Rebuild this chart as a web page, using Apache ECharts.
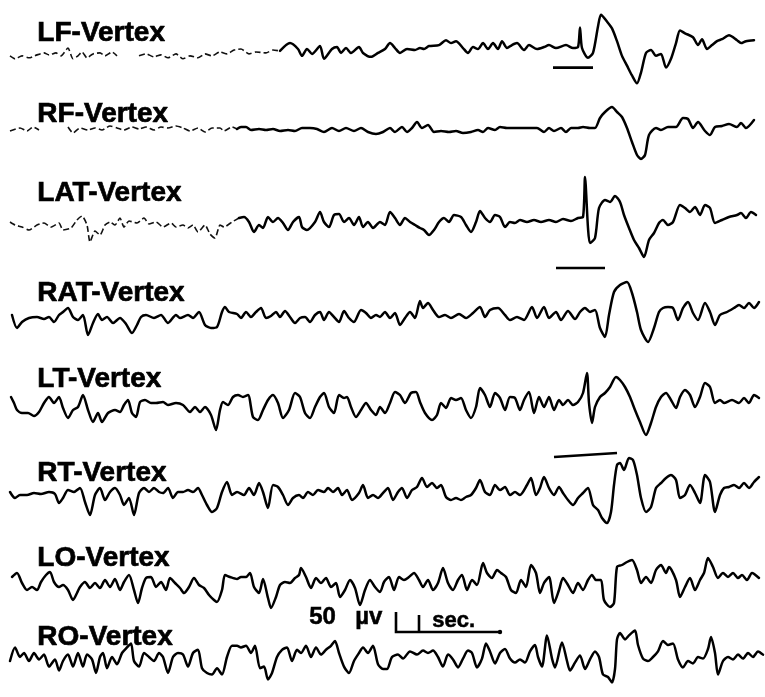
<!DOCTYPE html>
<html><head><meta charset="utf-8">
<script src="https://cdn.jsdelivr.net/npm/echarts/dist/echarts.min.js"></script>
<style>html,body{margin:0;padding:0;background:#fff}#c{width:765px;height:697px}</style>
</head><body><div id="c"></div>
<script>
// EEG bipolar traces (channel - Vertex). Time unit: 1 sec = 105 units; amplitude in arbitrary pen units (50 uV ~ 20 units)
const channels = ['LF-Vertex','RF-Vertex','LAT-Vertex','RAT-Vertex','LT-Vertex','RT-Vertex','LO-Vertex','RO-Vertex'];

const lf = [[10,-7],[15,-10],[22,-7],[29,-9],[37,-6],[44,-4],[49,-6],[56,-4],[61,-7],[68,1],[73,-10],[78,-7],[82,-3],[87,-9],[93,-5],[100,-4],[105,-7],[112,-3],[117,-7],[128,null],[139,-7],[146,-5],[154,-8],[161,-6],[168,-9],[176,-5],[183,-10],[190,-7],[198,-9],[205,-5],[212,-7],[220,-3],[227,-5],[234,-1],[241,0],[249,-5],[256,-3],[266,-4],[273,-1],[280,-2],[290,6],[298,0],[302,-7],[307,0],[312,-5],[320,3],[324,-10],[332,0],[337,2],[341,-4],[346,1],[351,-4],[359,2],[363,-4],[371,-8],[378,-4],[385,0],[390,6],[395,1],[400,-4],[407,0],[415,-1],[420,1],[424,0],[429,3],[439,4],[446,9],[451,6],[456,8],[463,1],[468,-4],[473,2],[478,0],[483,6],[488,0],[493,6],[498,0],[502,8],[507,1],[512,4],[517,6],[524,-1],[529,4],[537,0],[544,2],[549,4],[556,1],[566,4],[573,1],[578,2],[580,22],[582,1],[588,-9],[593,-4],[598,23],[601,35],[607,28],[612,21],[617,8],[622,-7],[627,-17],[632,-27],[637,-35],[641,-24],[646,-4],[651,-1],[656,-7],[661,-5],[666,-19],[671,-10],[676,6],[680,19],[685,16],[693,12],[698,4],[702,10],[707,0],[712,4],[717,8],[722,10],[729,14],[737,9],[741,6],[746,8],[754,9]];

const rf = [[10,-3],[20,0],[27,-3],[33,1],[39,-2],[55,null],[68,1],[73,-5],[80,0],[88,-2],[95,0],[102,-2],[110,2],[117,0],[124,-2],[132,1],[139,-1],[146,1],[154,-2],[161,1],[168,0],[176,2],[183,0],[190,-3],[198,0],[205,-4],[212,0],[220,0],[224,-3],[232,1],[237,-1],[241,1],[246,1],[251,-2],[259,-1],[266,-2],[273,-1],[280,-3],[288,-2],[295,-3],[302,0],[310,0],[317,-1],[324,-4],[332,0],[339,-3],[346,0],[354,-3],[361,0],[368,-4],[376,-6],[383,-4],[390,0],[395,-4],[402,1],[407,-4],[412,0],[417,6],[422,0],[428,3],[434,-4],[441,-3],[449,-4],[456,-3],[463,-5],[471,-4],[478,-2],[483,-4],[488,0],[495,-2],[500,1],[507,0],[515,0],[522,0],[529,0],[537,0],[544,-4],[549,0],[554,-3],[561,0],[566,-4],[571,0],[578,0],[583,1],[590,0],[595,0],[600,10],[605,16],[612,21],[617,16],[622,11],[627,0],[632,-14],[637,-27],[641,-31],[645,-27],[649,-7],[656,0],[661,-2],[668,1],[676,1],[683,10],[688,9],[693,0],[698,6],[705,-3],[710,-7],[715,1],[722,2],[729,4],[737,1],[741,5],[746,0],[754,8]];

const lat = [[10,-2],[15,-5],[22,-7],[29,-10],[37,-5],[44,-3],[51,-7],[59,-3],[63,-10],[71,-8],[77,0],[82,4],[87,-5],[90,-22],[95,-11],[100,-15],[105,-5],[110,-2],[115,-5],[120,2],[124,-7],[129,-1],[137,-3],[144,2],[149,-4],[156,-2],[163,-7],[171,-3],[176,-7],[183,-5],[188,-8],[193,-5],[198,-12],[205,-5],[210,-14],[215,-18],[220,-5],[224,-7],[232,-2],[239,2],[244,3],[249,-2],[254,-12],[259,-5],[263,-8],[268,3],[273,-2],[278,2],[283,-3],[288,-10],[293,-2],[299,3],[302,-7],[307,-10],[315,-2],[320,8],[324,-2],[329,-7],[334,5],[339,6],[344,-2],[349,2],[354,-5],[359,3],[363,-7],[368,-2],[373,-8],[380,-2],[385,-5],[390,8],[395,2],[400,-5],[405,2],[410,-2],[415,-5],[420,-8],[424,-10],[429,-15],[434,-10],[439,-2],[444,2],[449,-2],[454,5],[461,3],[466,-5],[471,-12],[476,-2],[480,9],[485,2],[490,-2],[495,5],[500,3],[505,-7],[510,-2],[515,-3],[520,0],[527,-2],[534,0],[541,-2],[549,0],[556,-2],[563,1],[571,-1],[578,2],[583,3],[585,43],[588,-8],[590,-23],[595,-18],[599,12],[605,20],[610,18],[615,24],[620,18],[624,5],[629,-8],[634,-20],[639,-28],[644,-37],[649,-20],[654,-13],[659,-3],[663,0],[668,-5],[673,-2],[680,15],[685,12],[690,8],[695,13],[700,5],[705,15],[710,12],[715,-3],[722,0],[729,3],[737,5],[741,7],[746,2],[751,8],[756,5]];

const rat = [[12,3],[17,-10],[22,-4],[29,0],[37,1],[44,-1],[49,1],[54,-4],[59,3],[63,6],[68,10],[73,1],[78,-2],[83,3],[88,-17],[93,-5],[98,4],[102,-2],[107,1],[113,-5],[120,0],[126,-6],[132,-15],[137,-7],[141,1],[146,3],[154,0],[161,3],[168,-5],[176,3],[180,0],[188,3],[193,0],[199,6],[205,-7],[211,-10],[217,-9],[222,6],[225,11],[229,6],[237,4],[241,0],[246,6],[251,1],[256,6],[261,10],[266,0],[271,2],[276,6],[280,1],[285,7],[290,1],[295,-5],[300,0],[305,1],[310,-4],[315,3],[320,6],[324,-2],[329,6],[334,1],[339,-4],[344,7],[349,0],[354,-4],[361,8],[366,5],[371,0],[376,3],[380,1],[385,6],[390,0],[395,5],[400,-7],[405,0],[410,6],[415,0],[420,17],[423,10],[428,15],[433,8],[439,1],[445,3],[451,0],[459,4],[466,0],[473,5],[480,11],[485,1],[490,8],[498,10],[505,3],[510,-2],[517,1],[524,-2],[532,11],[537,0],[544,11],[549,0],[556,6],[561,-2],[568,7],[575,-1],[580,6],[585,10],[590,6],[595,8],[600,-10],[605,-19],[609,3],[614,26],[620,33],[627,36],[632,25],[637,6],[641,-12],[648,-24],[654,-10],[659,6],[663,10],[668,11],[673,10],[678,-2],[683,10],[688,16],[693,5],[698,-2],[705,15],[710,6],[715,-7],[720,3],[727,6],[734,10],[739,13],[744,10],[749,15],[754,10],[759,16]];

const lt = [[11,6],[14,0],[17,-7],[22,-10],[28,-10],[34,-13],[39,-9],[44,0],[49,6],[54,0],[59,6],[63,-5],[68,-15],[73,-7],[78,-4],[83,8],[88,-7],[93,-19],[98,-10],[102,-19],[108,-10],[115,-7],[120,-9],[124,-2],[128,3],[132,-10],[136,-14],[140,1],[145,3],[151,0],[156,0],[163,1],[168,-2],[176,0],[183,-2],[190,-9],[195,-4],[200,-9],[205,-4],[211,-12],[216,-27],[220,-7],[223,1],[228,-2],[233,6],[238,8],[243,6],[248,8],[253,-14],[258,-17],[263,-7],[268,3],[273,8],[278,0],[283,-15],[289,-7],[295,10],[300,6],[305,-10],[310,-15],[315,-4],[320,6],[324,10],[329,-4],[334,-10],[339,8],[344,5],[347,6],[351,-4],[356,-14],[361,-7],[366,0],[371,-7],[376,-12],[380,-4],[385,-10],[390,0],[395,11],[400,8],[405,0],[411,10],[416,11],[420,1],[425,-10],[432,-17],[437,-12],[441,0],[446,-5],[451,5],[456,3],[461,5],[466,-7],[471,-15],[476,-4],[480,15],[485,8],[490,-4],[495,10],[500,5],[505,-7],[510,6],[515,5],[520,-7],[524,3],[529,11],[534,-10],[539,6],[544,-4],[549,6],[554,-7],[559,3],[563,-2],[568,3],[573,-2],[578,1],[583,10],[587,30],[589,0],[592,-20],[595,-4],[600,6],[605,10],[610,16],[616,26],[620,23],[625,16],[630,6],[635,-7],[640,-19],[646,-32],[651,-20],[656,-4],[661,6],[666,10],[671,3],[676,-5],[680,6],[685,13],[690,8],[695,-4],[700,6],[705,20],[710,16],[715,0],[720,3],[724,0],[732,3],[739,0],[744,5],[749,0],[754,8],[759,5]];

const rt = [[10,0],[15,-6],[20,-3],[27,-3],[34,-1],[41,-2],[49,0],[55,-2],[59,-11],[63,-6],[68,2],[74,0],[80,4],[85,-10],[90,-23],[95,-3],[100,4],[105,-8],[110,0],[115,4],[120,-3],[124,-13],[129,-6],[134,-23],[139,-1],[144,4],[149,0],[154,4],[159,0],[163,-1],[168,4],[173,-6],[178,0],[183,0],[188,2],[193,0],[198,4],[202,-3],[207,-13],[212,-20],[217,-16],[222,0],[227,10],[232,-3],[237,0],[244,-3],[249,4],[254,-3],[259,9],[263,0],[268,-16],[273,7],[278,5],[283,-3],[288,-13],[293,-6],[299,-3],[303,-6],[308,0],[313,-3],[318,2],[324,0],[328,4],[333,0],[338,4],[342,-3],[347,2],[352,-8],[359,-1],[363,7],[368,-6],[373,-3],[378,-6],[383,-1],[388,4],[393,-8],[398,0],[402,4],[407,-6],[412,2],[417,5],[422,14],[427,5],[432,9],[437,4],[441,7],[446,-5],[451,-8],[456,-6],[461,-8],[466,-5],[471,-3],[476,4],[480,12],[485,0],[490,-3],[495,7],[500,2],[505,5],[510,-3],[515,0],[520,-3],[527,7],[531,14],[536,-3],[540,4],[544,15],[549,4],[554,-3],[559,5],[563,-1],[568,-8],[573,-13],[578,-6],[583,-1],[588,4],[593,-13],[598,-18],[602,-26],[607,-31],[611,-20],[614,7],[617,27],[620,29],[624,22],[629,34],[633,32],[637,17],[641,-6],[646,-20],[651,-15],[656,4],[661,9],[666,14],[671,17],[676,12],[680,-6],[685,-3],[690,7],[695,-1],[700,-11],[705,17],[710,10],[715,-20],[720,-3],[724,4],[729,5],[734,7],[739,4],[744,9],[749,4],[754,10],[759,15]];

const lo = [[12,5],[17,9],[22,-1],[27,-8],[32,-5],[37,-8],[41,0],[46,7],[50,10],[54,0],[59,-5],[63,-3],[68,-8],[73,-18],[77,-11],[80,-5],[85,0],[90,-6],[95,-1],[100,-6],[105,2],[110,-5],[115,3],[120,-8],[124,0],[129,7],[134,-8],[138,-21],[142,-6],[146,4],[151,5],[156,-5],[161,0],[166,-8],[170,4],[175,-1],[180,-6],[184,-11],[189,-5],[194,4],[199,-3],[204,-6],[209,-13],[214,-18],[217,-20],[222,-8],[225,7],[230,5],[237,3],[241,5],[246,5],[250,9],[254,-5],[259,-11],[263,3],[268,-16],[271,-26],[276,-15],[280,-3],[285,0],[290,-1],[295,4],[299,7],[301,14],[306,5],[311,-6],[316,4],[321,-1],[326,4],[331,-5],[336,-1],[340,-15],[345,-8],[350,2],[355,-6],[360,-23],[365,-8],[370,2],[375,-5],[380,-10],[384,0],[389,5],[394,-8],[399,5],[404,2],[409,5],[414,9],[419,2],[423,-5],[428,2],[433,-8],[438,-1],[443,14],[448,-1],[453,-8],[458,2],[462,7],[467,-8],[472,2],[477,-3],[483,19],[487,9],[492,4],[497,12],[501,9],[506,5],[511,-8],[516,-11],[521,2],[526,-5],[531,17],[536,9],[540,-11],[544,-1],[549,5],[554,-21],[559,-8],[563,4],[568,-3],[573,-11],[578,-1],[583,-8],[588,2],[592,7],[596,2],[601,2],[604,-18],[610,-25],[614,-21],[617,15],[622,17],[627,20],[632,22],[637,12],[641,-1],[646,5],[651,-1],[656,12],[661,17],[666,9],[669,15],[676,2],[680,-15],[685,-5],[690,4],[695,-8],[700,2],[704,9],[708,24],[713,15],[718,4],[723,9],[728,5],[733,9],[738,4],[742,7],[747,2],[752,9],[759,4]];

const ro = [[10,-5],[15,12],[20,0],[24,5],[29,-5],[34,5],[39,-3],[44,3],[49,-12],[55,-3],[59,-17],[63,-5],[68,3],[73,-12],[78,5],[83,-12],[87,3],[92,-3],[96,-20],[100,0],[103,5],[107,-14],[112,0],[117,-9],[122,5],[127,12],[131,17],[134,-5],[139,-12],[144,5],[149,0],[154,-5],[159,5],[163,0],[168,-20],[173,0],[178,5],[183,3],[188,-12],[193,5],[198,9],[202,-14],[207,-20],[212,-22],[217,-14],[222,-22],[227,0],[232,14],[237,14],[241,12],[246,14],[251,5],[255,14],[260,-14],[264,-12],[268,-28],[272,-20],[277,0],[282,9],[287,12],[292,-5],[297,9],[301,5],[306,14],[311,0],[316,12],[321,3],[326,9],[331,14],[335,20],[339,5],[344,-12],[349,-20],[354,-5],[359,5],[363,12],[368,5],[373,14],[378,-9],[383,-15],[387,-15],[392,0],[398,3],[403,-2],[410,7],[417,3],[423,8],[428,5],[433,8],[438,0],[443,-12],[448,3],[453,-3],[458,-13],[463,-2],[468,8],[472,5],[477,-13],[482,-2],[486,17],[490,7],[495,-8],[500,5],[505,10],[510,-2],[515,-7],[520,-3],[525,-7],[530,7],[535,15],[538,0],[542,-12],[547,27],[552,-2],[555,-13],[562,18],[567,-5],[570,-17],[575,-7],[580,2],[585,-15],[590,-3],[595,7],[599,0],[603,-22],[608,-25],[612,-32],[615,-15],[617,22],[620,30],[625,22],[629,27],[635,33],[638,15],[643,-2],[648,-5],[653,0],[658,7],[663,20],[668,15],[673,17],[678,-3],[683,-13],[688,-5],[693,-8],[698,0],[703,-2],[708,10],[711,25],[715,5],[718,-22],[723,-5],[728,0],[733,-3],[738,3],[743,-2],[748,5],[753,0],[758,7],[763,3]];

// stimulus marker bars
const markerLF = [[553,-19],[593,-19]];
const markerLAT = [[556,-48],[605,-48]];
const markerRT = [[554,35],[617,39]];

const traces = [lf, rf, lat, rat, lt, rt, lo, ro];
const markers = [markerLF, null, markerLAT, null, null, markerRT, null, null];
const faintEnd = [280, 237, 239, 0, 0, 0, 0, 0];

// layout
const baseY = [48, 128, 220, 318, 403, 492, 582, 667];
const labelTop = [21, 102, 181, 281, 367, 461, 546, 625];

const chart = echarts.init(document.getElementById('c'), null, {renderer: 'canvas'});
const grid = [], xAxis = [], yAxis = [], series = [];
traces.forEach((d, i) => {
  grid.push({left: 0, width: 765, top: baseY[i] - 50, height: 100});
  xAxis.push({type: 'value', gridIndex: i, min: 0, max: 765, show: false});
  yAxis.push({type: 'value', gridIndex: i, min: -50, max: 50, show: false});
  const fe = faintEnd[i];
  if (fe > 0) {
    series.push({type: 'line', xAxisIndex: i, yAxisIndex: i, symbol: 'none', silent: true,
      data: d.filter(p => p[0] <= fe), connectNulls: false, smooth: 0.2,
      lineStyle: {color: '#111', width: 1.6, type: [6, 3]}});
  }
  series.push({type: 'line', xAxisIndex: i, yAxisIndex: i, symbol: 'none', silent: true,
    data: d.filter(p => p[0] >= fe), smooth: 0.25,
    lineStyle: {color: '#000', width: 2.5, join: 'round', cap: 'round'}});
  if (markers[i]) {
    series.push({type: 'line', xAxisIndex: i, yAxisIndex: i, symbol: 'none', silent: true,
      data: markers[i], lineStyle: {color: '#000', width: 2.6}});
  }
});

const font = (s) => 'bold ' + s + 'px "Liberation Sans", Arial, sans-serif';
const graphic = channels.map((name, i) => ({
  type: 'text', left: 37, top: labelTop[i] - 2,
  style: {text: name, font: font(28), fill: '#000', stroke: '#000', lineWidth: 0.7}
}));
graphic.push(
  {type: 'text', left: 309, top: 605, style: {text: '50', font: font(24), fill: '#000', stroke: '#000', lineWidth: 0.5}},
  {type: 'text', left: 355, top: 605, style: {text: 'µv', font: font(24), fill: '#000', stroke: '#000', lineWidth: 0.5}},
  {type: 'polyline', shape: {points: [[396, 612], [396, 632], [500, 632]]}, style: {stroke: '#000', lineWidth: 2.6, fill: null}},
  {type: 'line', shape: {x1: 419, y1: 615, x2: 419, y2: 632}, style: {stroke: '#000', lineWidth: 2.6}},
  {type: 'circle', shape: {cx: 500, cy: 632, r: 2.2}, style: {fill: '#000'}},
  {type: 'text', left: 432, top: 610, style: {text: 'sec.', font: font(22), fill: '#000', stroke: '#000', lineWidth: 0.5}}
);

chart.setOption({animation: false, backgroundColor: '#fff', grid, xAxis, yAxis, series, graphic});
</script>
</body></html>
